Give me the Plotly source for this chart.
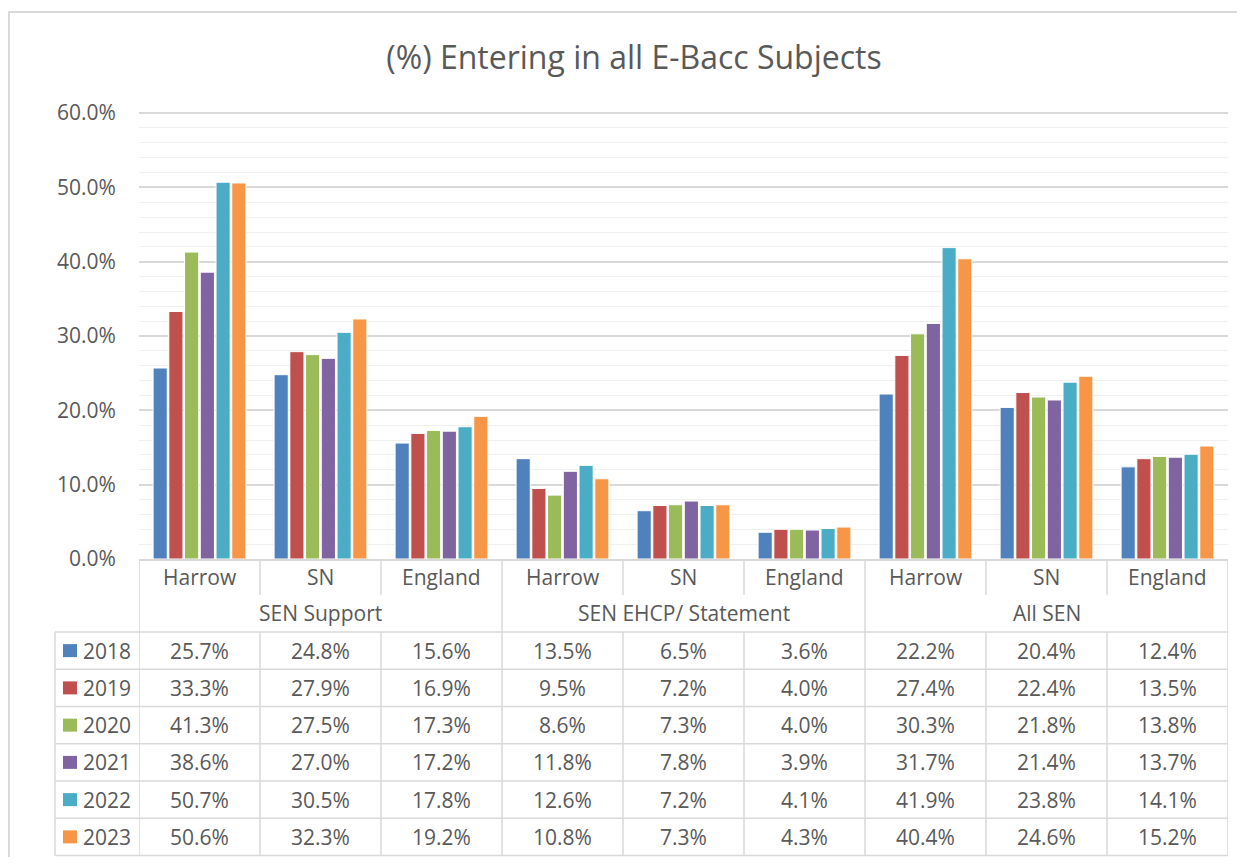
import plotly.graph_objects as go

# ---- data ----
categories = ["Harrow", "SN", "England"] * 3
groups = ["SEN Support", "SEN EHCP/ Statement", "All SEN"]
years = ["2018", "2019", "2020", "2021", "2022", "2023"]

v2018 = [25.7, 24.8, 15.6, 13.5, 6.5, 3.6, 22.2, 20.4, 12.4]
v2019 = [33.3, 27.9, 16.9, 9.5, 7.2, 4.0, 27.4, 22.4, 13.5]
v2020 = [41.3, 27.5, 17.3, 8.6, 7.3, 4.0, 30.3, 21.8, 13.8]
v2021 = [38.6, 27.0, 17.2, 11.8, 7.8, 3.9, 31.7, 21.4, 13.7]
v2022 = [50.7, 30.5, 17.8, 12.6, 7.2, 4.1, 41.9, 23.8, 14.1]
v2023 = [50.6, 32.3, 19.2, 10.8, 7.3, 4.3, 40.4, 24.6, 15.2]
series = [v2018, v2019, v2020, v2021, v2022, v2023]

colors = ["#4F81BD", "#C0504D", "#9BBB59", "#8064A2", "#4BACC6", "#F79646"]

# ---- geometry ----
# page body has an 8px margin, so the figure is 16px smaller than the window
OFF = 8
W, H = 1245 - 2 * OFF, 865 - 2 * OFF
ML = 139 - OFF
MT = 112 - OFF
MR = W - (1228 - OFF)
MB = 0
PW = W - ML - MR
PH = H - MT - MB

# y2 axis: screen pixels measured up from the table bottom line
Y2_BASE = 855.5
Y2_TOP = Y2_BASE - 559
Y2_MIN = -1.5
split = (Y2_TOP - Y2_MIN) / PH

TEXT = "#595959"
LINE = "#d9d9d9"
FONT = "Open Sans, sans-serif"
FS = 21


def sx(p):
    # screen x pixel -> paper
    return (p - OFF - ML) / PW


def sy(p):
    # screen y pixel -> paper
    return (H - MB - (p - OFF)) / PH


def y2(p):
    # screen y pixel -> y2 value
    return Y2_BASE - p


xs = list(range(len(categories)))

fig = go.Figure()
for yr, vals, col in zip(years, series, colors):
    fig.add_trace(
        go.Bar(
            x=xs,
            y=[v / 100 for v in vals],
            name=yr,
            marker=dict(color=col, line=dict(color="white", width=1)),
            hoverinfo="skip",
        )
    )

shapes = []
ann = []
ln = dict(color=LINE, width=1.5)

row_top = y2(632)
row_h = row_top / 6

# vertical table lines
for k in range(10):
    xk = k - 0.5
    if k % 3 == 0:
        shapes.append(dict(type="line", xref="x", yref="y2", x0=xk, x1=xk, y0=0, y1=Y2_TOP, line=ln))
    else:
        shapes.append(dict(type="line", xref="x", yref="y2", x0=xk, x1=xk, y0=0, y1=row_top, line=ln))
        shapes.append(dict(type="line", xref="x", yref="y2", x0=xk, x1=xk, y0=y2(595), y1=Y2_TOP, line=ln))

# horizontal lines of the data rows (legend column included)
for i in range(7):
    yy = row_top - row_h * i
    shapes.append(dict(type="line", xref="paper", yref="y2", x0=sx(55), x1=1, y0=yy, y1=yy, line=ln))
shapes.append(dict(type="line", xref="paper", yref="y2", x0=sx(55), x1=sx(55), y0=0, y1=row_top, line=ln))

# header labels
for i, c in enumerate(categories):
    ann.append(dict(x=i, y=y2(577), xref="x", yref="y2", text=c, showarrow=False,
                    font=dict(size=FS, color=TEXT)))
for g, name in enumerate(groups):
    ann.append(dict(x=3 * g + 1, y=y2(613), xref="x", yref="y2", text=name, showarrow=False,
                    font=dict(size=FS, color=TEXT)))

# data rows
for r, (yr, vals, col) in enumerate(zip(years, series, colors)):
    yc = row_top - row_h * r - row_h / 2
    shapes.append(dict(type="rect", xref="paper", yref="y2", x0=sx(63), x1=sx(77),
                       y0=yc - 6.5, y1=yc + 6.5, fillcolor=col, line=dict(width=0)))
    ann.append(dict(x=sx(81), y=yc, xref="paper", yref="y2", text=yr, showarrow=False,
                    xanchor="left", font=dict(size=FS, color=TEXT)))
    for i, v in enumerate(vals):
        ann.append(dict(x=i, y=yc, xref="x", yref="y2", text=f"{v:.1f}%", showarrow=False,
                        font=dict(size=FS, color=TEXT)))

# chart border
shapes.append(dict(type="rect", xref="paper", yref="paper", x0=sx(9), x1=sx(1270),
                   y0=sy(890), y1=sy(12), line=dict(color=LINE, width=2), layer="below"))

fig.update_layout(
    width=W,
    height=H,
    margin=dict(l=ML, r=MR, t=MT, b=MB, autoexpand=False),
    paper_bgcolor="white",
    plot_bgcolor="white",
    font=dict(family=FONT, color=TEXT, size=FS),
    showlegend=False,
    barmode="group",
    bargap=0.22,
    bargroupgap=0.1,
    title=dict(text="(%) Entering in all E-Bacc Subjects", x=sx(634), xref="paper",
               y=1 - (58 - OFF) / H, yref="container", xanchor="center", yanchor="middle",
               font=dict(size=32, color=TEXT, family=FONT)),
    xaxis=dict(range=[-0.5, 8.5], showticklabels=False, showgrid=False, zeroline=False,
               showline=True, linecolor=LINE, linewidth=1.5, anchor="y", ticks="",
               automargin=False),
    yaxis=dict(domain=[split, 1], range=[0, 0.6015], dtick=0.1, tickformat=".1%",
               showgrid=True, gridcolor=LINE, gridwidth=1.5, zeroline=False,
               ticks="outside", ticklen=18, tickcolor="rgba(0,0,0,0)", automargin=False,
               minor=dict(dtick=0.02, showgrid=True, gridcolor="#f0f0f0", gridwidth=1),
               tickfont=dict(size=FS, color=TEXT)),
    yaxis2=dict(domain=[0, split], range=[Y2_MIN, Y2_TOP], visible=False, anchor="x",
                automargin=False),
    shapes=shapes,
    annotations=ann,
)

fig.write_html("out.html")
